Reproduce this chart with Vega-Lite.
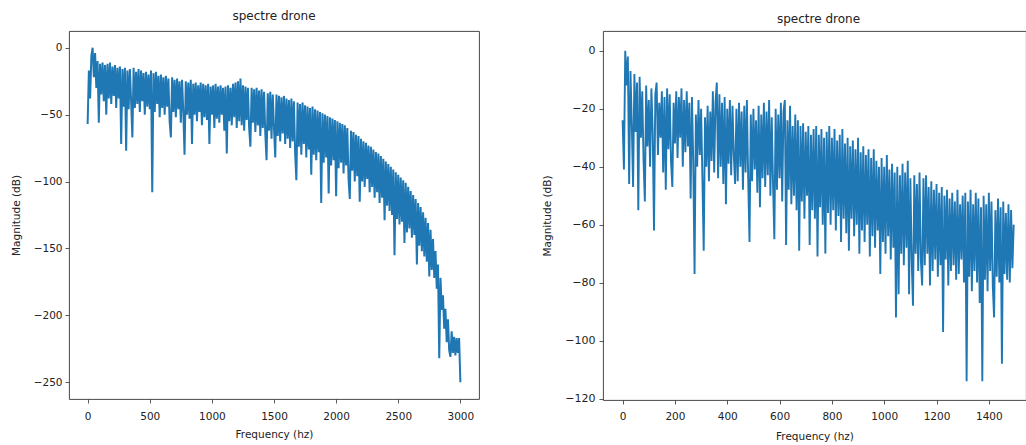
{
"$schema": "https://vega.github.io/schema/vega-lite/v6.json",
"background": "white",
"padding": {"left": 10, "top": 9, "right": 0, "bottom": 0},
"spacing": 62,
"config": {
  "font": "DejaVu Sans",
  "view": {"stroke": "#333", "strokeWidth": 0.9},
  "axis": {"grid": false, "domain": false, "tickColor": "#333", "tickSize": 4, "tickWidth": 0.8, "labelFontSize": 10.5, "labelColor": "#222", "labelPadding": 3, "titleFontSize": 10.5, "titleFontWeight": "normal", "titleColor": "#222"},
  "axisX": {"labelPadding": 8, "format": "d"},
  "title": {"fontSize": 12, "fontWeight": "normal", "color": "#222", "offset": 8}
},
"datasets": {
"left": [
{"freq":0,"mag":-57},{"freq":10,"mag":-17},{"freq":20,"mag":-38},{"freq":30,"mag":-6},{"freq":40,"mag":0},{"freq":50,"mag":-22},{"freq":60,"mag":-4},{"freq":70,"mag":-30},{"freq":80,"mag":-10},{"freq":90,"mag":-56},
{"freq":100,"mag":-12},{"freq":110,"mag":-35},{"freq":120,"mag":-11},{"freq":130,"mag":-40},{"freq":140,"mag":-13},{"freq":150,"mag":-50},{"freq":160,"mag":-12},{"freq":170,"mag":-38},{"freq":180,"mag":-11},{"freq":190,"mag":-42},
{"freq":200,"mag":-14},{"freq":210,"mag":-36},{"freq":220,"mag":-13},{"freq":230,"mag":-45},{"freq":240,"mag":-15},{"freq":250,"mag":-38},{"freq":260,"mag":-14},{"freq":270,"mag":-72},{"freq":280,"mag":-16},{"freq":290,"mag":-44},
{"freq":300,"mag":-15},{"freq":310,"mag":-77},{"freq":320,"mag":-17},{"freq":330,"mag":-46},{"freq":340,"mag":-16},{"freq":350,"mag":-40},{"freq":360,"mag":-67},{"freq":370,"mag":-15},{"freq":380,"mag":-45},{"freq":390,"mag":-18},
{"freq":400,"mag":-42},{"freq":410,"mag":-16},{"freq":420,"mag":-48},{"freq":430,"mag":-17},{"freq":440,"mag":-40},{"freq":450,"mag":-19},{"freq":460,"mag":-50},{"freq":470,"mag":-18},{"freq":480,"mag":-44},{"freq":490,"mag":-20},
{"freq":500,"mag":-46},{"freq":510,"mag":-17},{"freq":520,"mag":-108},{"freq":530,"mag":-19},{"freq":540,"mag":-48},{"freq":550,"mag":-18},{"freq":560,"mag":-42},{"freq":570,"mag":-21},{"freq":580,"mag":-52},{"freq":590,"mag":-20},
{"freq":600,"mag":-45},{"freq":610,"mag":-22},{"freq":620,"mag":-50},{"freq":630,"mag":-21},{"freq":640,"mag":-44},{"freq":650,"mag":-23},{"freq":660,"mag":-55},{"freq":670,"mag":-67},{"freq":680,"mag":-22},{"freq":690,"mag":-48},
{"freq":700,"mag":-24},{"freq":710,"mag":-52},{"freq":720,"mag":-23},{"freq":730,"mag":-46},{"freq":740,"mag":-25},{"freq":750,"mag":-56},{"freq":760,"mag":-24},{"freq":770,"mag":-48},{"freq":780,"mag":-80},{"freq":790,"mag":-25},
{"freq":800,"mag":-50},{"freq":810,"mag":-26},{"freq":820,"mag":-53},{"freq":830,"mag":-24},{"freq":840,"mag":-72},{"freq":850,"mag":-27},{"freq":860,"mag":-50},{"freq":870,"mag":-26},{"freq":880,"mag":-55},{"freq":890,"mag":-28},
{"freq":900,"mag":-48},{"freq":910,"mag":-26},{"freq":920,"mag":-58},{"freq":930,"mag":-27},{"freq":940,"mag":-52},{"freq":950,"mag":-28},{"freq":960,"mag":-54},{"freq":970,"mag":-27},{"freq":980,"mag":-72},{"freq":990,"mag":-29},
{"freq":1000,"mag":-50},{"freq":1010,"mag":-28},{"freq":1020,"mag":-60},{"freq":1030,"mag":-27},{"freq":1040,"mag":-53},{"freq":1050,"mag":-29},{"freq":1060,"mag":-56},{"freq":1070,"mag":-28},{"freq":1080,"mag":-50},{"freq":1090,"mag":-30},
{"freq":1100,"mag":-62},{"freq":1110,"mag":-29},{"freq":1120,"mag":-79},{"freq":1130,"mag":-28},{"freq":1140,"mag":-55},{"freq":1150,"mag":-30},{"freq":1160,"mag":-58},{"freq":1170,"mag":-27},{"freq":1180,"mag":-52},{"freq":1190,"mag":-26},
{"freq":1200,"mag":-60},{"freq":1210,"mag":-25},{"freq":1220,"mag":-55},{"freq":1230,"mag":-23},{"freq":1240,"mag":-58},{"freq":1250,"mag":-28},{"freq":1260,"mag":-62},{"freq":1270,"mag":-29},{"freq":1280,"mag":-54},{"freq":1290,"mag":-30},
{"freq":1300,"mag":-60},{"freq":1310,"mag":-74},{"freq":1320,"mag":-30},{"freq":1330,"mag":-56},{"freq":1340,"mag":-31},{"freq":1350,"mag":-63},{"freq":1360,"mag":-30},{"freq":1370,"mag":-58},{"freq":1380,"mag":-32},{"freq":1390,"mag":-66},
{"freq":1400,"mag":-31},{"freq":1410,"mag":-60},{"freq":1420,"mag":-33},{"freq":1430,"mag":-64},{"freq":1440,"mag":-84},{"freq":1450,"mag":-34},{"freq":1460,"mag":-62},{"freq":1470,"mag":-33},{"freq":1480,"mag":-68},{"freq":1490,"mag":-35},
{"freq":1500,"mag":-60},{"freq":1510,"mag":-82},{"freq":1520,"mag":-35},{"freq":1530,"mag":-66},{"freq":1540,"mag":-36},{"freq":1550,"mag":-70},{"freq":1560,"mag":-37},{"freq":1570,"mag":-64},{"freq":1580,"mag":-36},{"freq":1590,"mag":-72},
{"freq":1600,"mag":-38},{"freq":1610,"mag":-68},{"freq":1620,"mag":-39},{"freq":1630,"mag":-75},{"freq":1640,"mag":-38},{"freq":1650,"mag":-70},{"freq":1660,"mag":-40},{"freq":1670,"mag":-78},{"freq":1680,"mag":-99},{"freq":1690,"mag":-41},
{"freq":1700,"mag":-74},{"freq":1710,"mag":-42},{"freq":1720,"mag":-80},{"freq":1730,"mag":-41},{"freq":1740,"mag":-72},{"freq":1750,"mag":-43},{"freq":1760,"mag":-82},{"freq":1770,"mag":-44},{"freq":1780,"mag":-76},{"freq":1790,"mag":-45},
{"freq":1800,"mag":-95},{"freq":1810,"mag":-44},{"freq":1820,"mag":-80},{"freq":1830,"mag":-46},{"freq":1840,"mag":-84},{"freq":1850,"mag":-47},{"freq":1860,"mag":-78},{"freq":1870,"mag":-48},{"freq":1880,"mag":-116},{"freq":1890,"mag":-49},
{"freq":1900,"mag":-86},{"freq":1910,"mag":-50},{"freq":1920,"mag":-82},{"freq":1930,"mag":-51},{"freq":1940,"mag":-109},{"freq":1950,"mag":-52},{"freq":1960,"mag":-88},{"freq":1970,"mag":-53},{"freq":1980,"mag":-84},{"freq":1990,"mag":-54},
{"freq":2000,"mag":-111},{"freq":2010,"mag":-55},{"freq":2020,"mag":-90},{"freq":2030,"mag":-56},{"freq":2040,"mag":-86},{"freq":2050,"mag":-57},{"freq":2060,"mag":-94},{"freq":2070,"mag":-58},{"freq":2080,"mag":-88},{"freq":2090,"mag":-60},
{"freq":2100,"mag":-98},{"freq":2110,"mag":-113},{"freq":2120,"mag":-62},{"freq":2130,"mag":-92},{"freq":2140,"mag":-63},{"freq":2150,"mag":-100},{"freq":2160,"mag":-65},{"freq":2170,"mag":-96},{"freq":2180,"mag":-66},{"freq":2190,"mag":-115},
{"freq":2200,"mag":-68},{"freq":2210,"mag":-100},{"freq":2220,"mag":-70},{"freq":2230,"mag":-104},{"freq":2240,"mag":-71},{"freq":2250,"mag":-98},{"freq":2260,"mag":-73},{"freq":2270,"mag":-108},{"freq":2280,"mag":-74},{"freq":2290,"mag":-104},
{"freq":2300,"mag":-76},{"freq":2310,"mag":-112},{"freq":2320,"mag":-78},{"freq":2330,"mag":-108},{"freq":2340,"mag":-79},{"freq":2350,"mag":-116},{"freq":2360,"mag":-81},{"freq":2370,"mag":-112},{"freq":2380,"mag":-83},{"freq":2390,"mag":-129},
{"freq":2400,"mag":-85},{"freq":2410,"mag":-118},{"freq":2420,"mag":-87},{"freq":2430,"mag":-122},{"freq":2440,"mag":-89},{"freq":2450,"mag":-125},{"freq":2460,"mag":-91},{"freq":2470,"mag":-155},{"freq":2480,"mag":-93},{"freq":2490,"mag":-128},
{"freq":2500,"mag":-95},{"freq":2510,"mag":-132},{"freq":2520,"mag":-97},{"freq":2530,"mag":-130},{"freq":2540,"mag":-99},{"freq":2550,"mag":-146},{"freq":2560,"mag":-101},{"freq":2570,"mag":-138},{"freq":2580,"mag":-104},{"freq":2590,"mag":-135},
{"freq":2600,"mag":-107},{"freq":2610,"mag":-142},{"freq":2620,"mag":-110},{"freq":2630,"mag":-140},{"freq":2640,"mag":-113},{"freq":2650,"mag":-162},{"freq":2660,"mag":-116},{"freq":2670,"mag":-148},{"freq":2680,"mag":-119},{"freq":2690,"mag":-152},
{"freq":2700,"mag":-123},{"freq":2710,"mag":-156},{"freq":2720,"mag":-127},{"freq":2730,"mag":-160},{"freq":2740,"mag":-131},{"freq":2750,"mag":-171},{"freq":2760,"mag":-136},{"freq":2770,"mag":-166},{"freq":2780,"mag":-143},{"freq":2790,"mag":-172},
{"freq":2800,"mag":-152},{"freq":2810,"mag":-180},{"freq":2820,"mag":-162},{"freq":2830,"mag":-232},{"freq":2840,"mag":-172},{"freq":2850,"mag":-196},{"freq":2860,"mag":-185},{"freq":2870,"mag":-210},{"freq":2880,"mag":-195},{"freq":2890,"mag":-220},
{"freq":2900,"mag":-203},{"freq":2910,"mag":-226},{"freq":2920,"mag":-231},{"freq":2930,"mag":-212},{"freq":2940,"mag":-228},{"freq":2950,"mag":-216},{"freq":2960,"mag":-230},{"freq":2970,"mag":-217},{"freq":2980,"mag":-228},{"freq":2990,"mag":-217},
{"freq":3000,"mag":-250}
],
"right": [
{"freq":0,"mag":-24},{"freq":5,"mag":-41},{"freq":10,"mag":0},{"freq":15,"mag":-12},{"freq":20,"mag":-2},{"freq":25,"mag":-46},{"freq":30,"mag":-7},{"freq":35,"mag":-25},{"freq":40,"mag":-47},{"freq":45,"mag":-8},
{"freq":50,"mag":-28},{"freq":55,"mag":-11},{"freq":60,"mag":-55},{"freq":65,"mag":-9},{"freq":70,"mag":-30},{"freq":75,"mag":-14},{"freq":80,"mag":-38},{"freq":85,"mag":-52},{"freq":90,"mag":-12},{"freq":95,"mag":-33},
{"freq":100,"mag":-17},{"freq":105,"mag":-40},{"freq":110,"mag":-13},{"freq":115,"mag":-28},{"freq":120,"mag":-62},{"freq":125,"mag":-15},{"freq":130,"mag":-11},{"freq":135,"mag":-36},{"freq":140,"mag":-18},{"freq":145,"mag":-30},
{"freq":150,"mag":-14},{"freq":155,"mag":-42},{"freq":160,"mag":-16},{"freq":165,"mag":-48},{"freq":170,"mag":-13},{"freq":175,"mag":-34},{"freq":180,"mag":-15},{"freq":185,"mag":-38},{"freq":190,"mag":-47},{"freq":195,"mag":-18},
{"freq":200,"mag":-32},{"freq":205,"mag":-14},{"freq":210,"mag":-37},{"freq":215,"mag":-16},{"freq":220,"mag":-30},{"freq":225,"mag":-13},{"freq":230,"mag":-40},{"freq":235,"mag":-17},{"freq":240,"mag":-35},{"freq":245,"mag":-14},
{"freq":250,"mag":-33},{"freq":255,"mag":-18},{"freq":260,"mag":-51},{"freq":265,"mag":-16},{"freq":270,"mag":-38},{"freq":275,"mag":-77},{"freq":280,"mag":-22},{"freq":285,"mag":-40},{"freq":290,"mag":-17},{"freq":295,"mag":-36},
{"freq":300,"mag":-20},{"freq":305,"mag":-44},{"freq":310,"mag":-69},{"freq":315,"mag":-23},{"freq":320,"mag":-40},{"freq":325,"mag":-19},{"freq":330,"mag":-45},{"freq":335,"mag":-21},{"freq":340,"mag":-38},{"freq":345,"mag":-14},
{"freq":350,"mag":-42},{"freq":355,"mag":-18},{"freq":360,"mag":-11},{"freq":365,"mag":-44},{"freq":370,"mag":-15},{"freq":375,"mag":-40},{"freq":380,"mag":-18},{"freq":385,"mag":-46},{"freq":390,"mag":-16},{"freq":395,"mag":-53},
{"freq":400,"mag":-20},{"freq":405,"mag":-39},{"freq":410,"mag":-17},{"freq":415,"mag":-43},{"freq":420,"mag":-19},{"freq":425,"mag":-36},{"freq":430,"mag":-46},{"freq":435,"mag":-20},{"freq":440,"mag":-45},{"freq":445,"mag":-18},
{"freq":450,"mag":-40},{"freq":455,"mag":-21},{"freq":460,"mag":-48},{"freq":465,"mag":-19},{"freq":470,"mag":-42},{"freq":475,"mag":-17},{"freq":480,"mag":-44},{"freq":485,"mag":-66},{"freq":490,"mag":-22},{"freq":495,"mag":-45},
{"freq":500,"mag":-20},{"freq":505,"mag":-41},{"freq":510,"mag":-24},{"freq":515,"mag":-49},{"freq":520,"mag":-19},{"freq":525,"mag":-54},{"freq":530,"mag":-22},{"freq":535,"mag":-44},{"freq":540,"mag":-18},{"freq":545,"mag":-47},
{"freq":550,"mag":-21},{"freq":555,"mag":-43},{"freq":560,"mag":-17},{"freq":565,"mag":-50},{"freq":570,"mag":-23},{"freq":575,"mag":-46},{"freq":580,"mag":-65},{"freq":585,"mag":-20},{"freq":590,"mag":-48},{"freq":595,"mag":-22},
{"freq":600,"mag":-44},{"freq":605,"mag":-18},{"freq":610,"mag":-52},{"freq":615,"mag":-21},{"freq":620,"mag":-17},{"freq":625,"mag":-67},{"freq":630,"mag":-24},{"freq":635,"mag":-48},{"freq":640,"mag":-19},{"freq":645,"mag":-53},
{"freq":650,"mag":-26},{"freq":655,"mag":-50},{"freq":660,"mag":-22},{"freq":665,"mag":-55},{"freq":670,"mag":-24},{"freq":675,"mag":-69},{"freq":680,"mag":-26},{"freq":685,"mag":-52},{"freq":690,"mag":-25},{"freq":695,"mag":-58},
{"freq":700,"mag":-28},{"freq":705,"mag":-50},{"freq":710,"mag":-26},{"freq":715,"mag":-67},{"freq":720,"mag":-29},{"freq":725,"mag":-55},{"freq":730,"mag":-27},{"freq":735,"mag":-58},{"freq":740,"mag":-26},{"freq":745,"mag":-71},
{"freq":750,"mag":-29},{"freq":755,"mag":-54},{"freq":760,"mag":-27},{"freq":765,"mag":-60},{"freq":770,"mag":-30},{"freq":775,"mag":-70},{"freq":780,"mag":-28},{"freq":785,"mag":-56},{"freq":790,"mag":-26},{"freq":795,"mag":-60},
{"freq":800,"mag":-30},{"freq":805,"mag":-55},{"freq":810,"mag":-27},{"freq":815,"mag":-62},{"freq":820,"mag":-31},{"freq":825,"mag":-57},{"freq":830,"mag":-29},{"freq":835,"mag":-66},{"freq":840,"mag":-27},{"freq":845,"mag":-58},
{"freq":850,"mag":-32},{"freq":855,"mag":-63},{"freq":860,"mag":-30},{"freq":865,"mag":-69},{"freq":870,"mag":-33},{"freq":875,"mag":-58},{"freq":880,"mag":-31},{"freq":885,"mag":-64},{"freq":890,"mag":-34},{"freq":895,"mag":-60},
{"freq":900,"mag":-30},{"freq":905,"mag":-70},{"freq":910,"mag":-35},{"freq":915,"mag":-62},{"freq":920,"mag":-33},{"freq":925,"mag":-66},{"freq":930,"mag":-36},{"freq":935,"mag":-60},{"freq":940,"mag":-34},{"freq":945,"mag":-71},
{"freq":950,"mag":-37},{"freq":955,"mag":-64},{"freq":960,"mag":-34},{"freq":965,"mag":-68},{"freq":970,"mag":-38},{"freq":975,"mag":-62},{"freq":980,"mag":-40},{"freq":985,"mag":-77},{"freq":990,"mag":-37},{"freq":995,"mag":-66},
{"freq":1000,"mag":-40},{"freq":1005,"mag":-70},{"freq":1010,"mag":-36},{"freq":1015,"mag":-64},{"freq":1020,"mag":-41},{"freq":1025,"mag":-72},{"freq":1030,"mag":-39},{"freq":1035,"mag":-68},{"freq":1040,"mag":-42},{"freq":1045,"mag":-92},
{"freq":1050,"mag":-40},{"freq":1055,"mag":-84},{"freq":1060,"mag":-43},{"freq":1065,"mag":-70},{"freq":1070,"mag":-39},{"freq":1075,"mag":-74},{"freq":1080,"mag":-42},{"freq":1085,"mag":-68},{"freq":1090,"mag":-38},{"freq":1095,"mag":-84},
{"freq":1100,"mag":-44},{"freq":1105,"mag":-72},{"freq":1110,"mag":-88},{"freq":1115,"mag":-43},{"freq":1120,"mag":-70},{"freq":1125,"mag":-46},{"freq":1130,"mag":-76},{"freq":1135,"mag":-42},{"freq":1140,"mag":-72},{"freq":1145,"mag":-81},
{"freq":1150,"mag":-44},{"freq":1155,"mag":-74},{"freq":1160,"mag":-43},{"freq":1165,"mag":-70},{"freq":1170,"mag":-47},{"freq":1175,"mag":-81},{"freq":1180,"mag":-45},{"freq":1185,"mag":-76},{"freq":1190,"mag":-48},{"freq":1195,"mag":-72},
{"freq":1200,"mag":-46},{"freq":1205,"mag":-78},{"freq":1210,"mag":-49},{"freq":1215,"mag":-74},{"freq":1220,"mag":-47},{"freq":1225,"mag":-97},{"freq":1230,"mag":-50},{"freq":1235,"mag":-72},{"freq":1240,"mag":-48},{"freq":1245,"mag":-81},
{"freq":1250,"mag":-51},{"freq":1255,"mag":-76},{"freq":1260,"mag":-49},{"freq":1265,"mag":-74},{"freq":1270,"mag":-52},{"freq":1275,"mag":-79},{"freq":1280,"mag":-48},{"freq":1285,"mag":-77},{"freq":1290,"mag":-53},{"freq":1295,"mag":-72},
{"freq":1300,"mag":-50},{"freq":1305,"mag":-80},{"freq":1310,"mag":-49},{"freq":1315,"mag":-114},{"freq":1320,"mag":-52},{"freq":1325,"mag":-78},{"freq":1330,"mag":-48},{"freq":1335,"mag":-83},{"freq":1340,"mag":-53},{"freq":1345,"mag":-76},
{"freq":1350,"mag":-49},{"freq":1355,"mag":-80},{"freq":1360,"mag":-51},{"freq":1365,"mag":-87},{"freq":1370,"mag":-54},{"freq":1375,"mag":-114},{"freq":1380,"mag":-50},{"freq":1385,"mag":-79},{"freq":1390,"mag":-53},{"freq":1395,"mag":-83},
{"freq":1400,"mag":-49},{"freq":1405,"mag":-76},{"freq":1410,"mag":-52},{"freq":1415,"mag":-81},{"freq":1420,"mag":-92},{"freq":1425,"mag":-55},{"freq":1430,"mag":-78},{"freq":1435,"mag":-51},{"freq":1440,"mag":-80},{"freq":1445,"mag":-54},
{"freq":1450,"mag":-108},{"freq":1455,"mag":-52},{"freq":1460,"mag":-77},{"freq":1465,"mag":-56},{"freq":1470,"mag":-79},{"freq":1475,"mag":-53},{"freq":1480,"mag":-80},{"freq":1485,"mag":-55},{"freq":1490,"mag":-75},{"freq":1495,"mag":-60}
]
},
"hconcat": [
  {
    "title": "spectre drone",
    "width": 410,
    "height": 368,
    "data": {"name": "left"},
    "mark": {"type": "line", "color": "#1f77b4", "strokeWidth": 2, "clip": true},
    "encoding": {
      "x": {"field": "freq", "type": "quantitative", "title": "Frequency (hz)",
            "scale": {"domain": [-150, 3150], "nice": false, "zero": false},
            "axis": {"values": [0, 500, 1000, 1500, 2000, 2500, 3000], "titlePadding": 8}},
      "y": {"field": "mag", "type": "quantitative", "title": "Magnitude (dB)",
            "scale": {"domain": [-262.5, 12.5], "nice": false, "zero": false},
            "axis": {"values": [-250, -200, -150, -100, -50, 0], "titlePadding": 12}}
    }
  },
  {
    "title": {"text": "spectre drone", "offset": 5, "dx": 4},
    "width": 423,
    "height": 369,
    "data": {"name": "right"},
    "mark": {"type": "line", "color": "#1f77b4", "strokeWidth": 1.9, "clip": true},
    "encoding": {
      "x": {"field": "freq", "type": "quantitative", "title": "Frequency (hz)",
            "scale": {"domain": [-75, 1542], "nice": false, "zero": false},
            "axis": {"values": [0, 200, 400, 600, 800, 1000, 1200, 1400], "titlePadding": 10, "labelPadding": 7}},
      "y": {"field": "mag", "type": "quantitative", "title": "Magnitude (dB)",
            "scale": {"domain": [-120.5, 6.8], "nice": false, "zero": false},
            "axis": {"values": [-120, -100, -80, -60, -40, -20, 0], "titlePadding": 12, "labelPadding": 4, "labelFontSize": 11}}
    }
  }
]
}
